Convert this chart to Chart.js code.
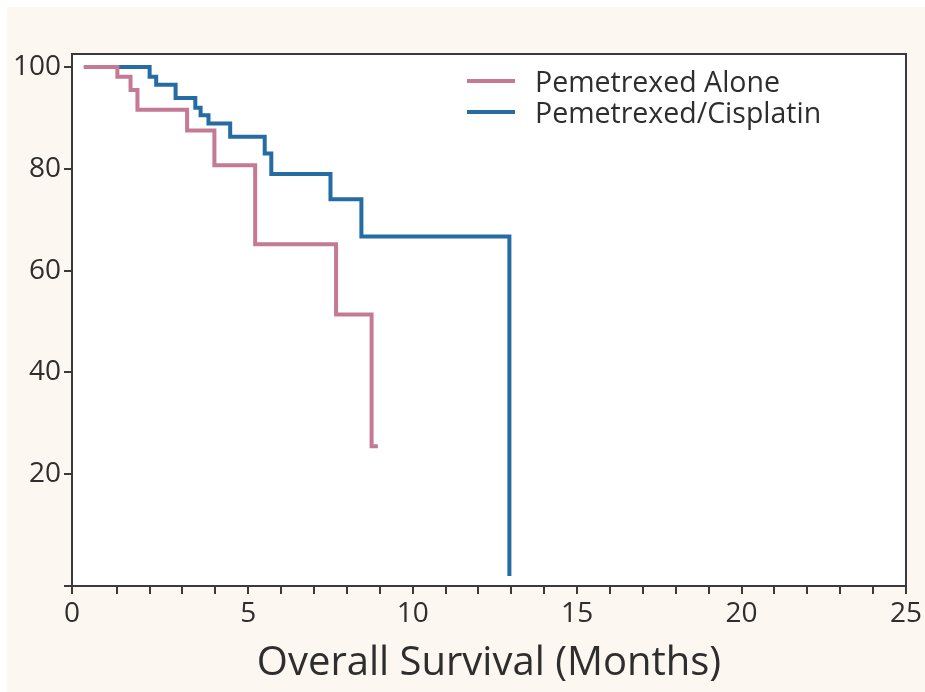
<!DOCTYPE html>
<html lang="en">
<head>
    <meta charset="UTF-8">
    <title>Overall Survival</title>
    <script src="https://cdn.jsdelivr.net/npm/chart.js"></script>
    <style>
        body {
            margin: 0;
            width: 925px;
            height: 692px;
            overflow: hidden;
            position: relative;
            background: #ffffff;
            font-family: "Open Sans", sans-serif;
        }
        .paper {
            position: absolute;
            left: 7px;
            top: 7px;
            right: 0;
            bottom: 0;
            background: #fcf7f1;
        }
        #survivalChart {
            position: absolute;
            left: 0;
            top: 0;
        }
        .legend {
            position: absolute;
            left: 467px;
            top: 65px;
        }
        .legend .item {
            display: flex;
            align-items: center;
            height: 31px;
            font-size: 28.5px;
            color: #2e2e2e;
            white-space: nowrap;
        }
        .legend .swatch {
            display: inline-block;
            width: 48px;
            height: 4px;
            margin-right: 20px;
        }
    </style>
</head>
<body>
    <div class="paper"></div>
    <canvas id="survivalChart" width="925" height="692"></canvas>
    <div class="legend" id="legend"></div>

    <script>
        // Kaplan-Meier steps (months, % surviving)
        const seriesNames = ["Pemetrexed Alone", "Pemetrexed/Cisplatin"];
        const seriesColors = ["#c47a94", "#256ca3"];

        const aloneMonths = [0, 1.02, 1.42, 1.63, 3.14, 3.97, 5.21, 7.67, 8.75, 8.94];
        const aloneSurvival = [100, 98.1, 95.5, 91.6, 87.5, 80.7, 65.2, 51.4, 25.5, 25.5];

        const comboMonths = [0, 2.0, 2.2, 2.79, 3.39, 3.55, 3.79, 4.45, 5.5, 5.7, 7.5, 8.44, 12.94];
        const comboSurvival = [100, 98.1, 96.5, 93.9, 92.0, 90.5, 88.9, 86.3, 83.0, 79.0, 74.0, 66.7, 0];

        const xTickValues = [1, 2, 3, 4, 5, 6, 7, 8, 9, 10, 11, 12, 13, 14, 15, 16, 17, 18, 19, 20, 21, 22, 23, 24, 25];
        const xLabelValues = [5, 10, 15, 20, 25];
        const yTickValues = [20, 40, 60, 80, 100];

        const X_MIN = -0.36, X_MAX = 25;
        const Y_MIN = -1.96, Y_MAX = 102.55;

        function toPoints(xs, ys) {
            return xs.map((x, i) => ({ x: x, y: ys[i] }));
        }

        const plotFrame = {
            id: "plotFrame",
            beforeDraw(chart) {
                const { ctx, chartArea: a } = chart;
                ctx.save();
                ctx.fillStyle = "#ffffff";
                ctx.fillRect(a.left, a.top, a.width, a.height);
                ctx.restore();
            },
            afterDatasetsDraw(chart) {
                const { ctx, chartArea: a } = chart;
                ctx.save();
                ctx.strokeStyle = "#3a3a3a";
                ctx.lineWidth = 2;
                ctx.strokeRect(a.left, a.top, a.width, a.height);
                ctx.restore();
            }
        };

        const tickFont = { family: "'Open Sans', sans-serif", size: 28 };

        const chart = new Chart(document.getElementById("survivalChart"), {
            type: "line",
            data: {
                datasets: [
                    {
                        label: seriesNames[0],
                        data: toPoints(aloneMonths, aloneSurvival),
                        borderColor: seriesColors[0],
                        borderWidth: 4,
                        stepped: "before",
                        pointRadius: 0,
                        fill: false
                    },
                    {
                        label: seriesNames[1],
                        data: toPoints(comboMonths, comboSurvival),
                        borderColor: seriesColors[1],
                        borderWidth: 4,
                        stepped: "before",
                        pointRadius: 0,
                        fill: false
                    }
                ]
            },
            options: {
                responsive: false,
                animation: false,
                devicePixelRatio: 1,
                layout: { padding: { left: 0, top: 54, right: 12, bottom: 0 } },
                plugins: {
                    legend: { display: false },
                    tooltip: { enabled: false }
                },
                scales: {
                    x: {
                        type: "linear",
                        min: X_MIN,
                        max: X_MAX,
                        afterBuildTicks: (s) => {
                            s.ticks = [{ value: X_MIN }].concat(xTickValues.map(v => ({ value: v })));
                        },
                        afterFit: (s) => { s.height = 106; },
                        ticks: {
                            autoSkip: false,
                            maxRotation: 0,
                            padding: 3,
                            color: "#2e2e2e",
                            font: tickFont,
                            callback: (v) => v === X_MIN ? "0" : (xLabelValues.includes(v) ? String(v) : "")
                        },
                        grid: {
                            drawOnChartArea: false,
                            drawTicks: true,
                            tickLength: 8,
                            color: "#3a3a3a",
                            lineWidth: 2
                        },
                        border: { display: true, color: "#3a3a3a", width: 2 },
                        title: {
                            display: true,
                            text: "Overall Survival (Months)",
                            color: "#2e2e2e",
                            font: { family: "'Open Sans', sans-serif", size: 40 },
                            padding: { top: 0, bottom: 4 }
                        }
                    },
                    y: {
                        type: "linear",
                        min: Y_MIN,
                        max: Y_MAX,
                        afterBuildTicks: (s) => {
                            s.ticks = [{ value: Y_MIN }].concat(yTickValues.map(v => ({ value: v })));
                        },
                        afterFit: (s) => { s.width = 72; },
                        ticks: {
                            autoSkip: false,
                            padding: 3,
                            color: "#2e2e2e",
                            font: tickFont,
                            callback: (v) => yTickValues.includes(v) ? String(v) : ""
                        },
                        grid: {
                            drawOnChartArea: false,
                            drawTicks: true,
                            tickLength: 8,
                            color: "#3a3a3a",
                            lineWidth: 2
                        },
                        border: { display: true, color: "#3a3a3a", width: 2 }
                    }
                }
            },
            plugins: [plotFrame]
        });

        // legend built from the dataset names and colours
        const legendBox = document.getElementById("legend");
        seriesNames.forEach((name, i) => {
            const row = document.createElement("div");
            row.className = "item";
            const swatch = document.createElement("span");
            swatch.className = "swatch";
            swatch.style.background = seriesColors[i];
            row.appendChild(swatch);
            row.appendChild(document.createTextNode(name));
            legendBox.appendChild(row);
        });
    </script>
</body>
</html>
